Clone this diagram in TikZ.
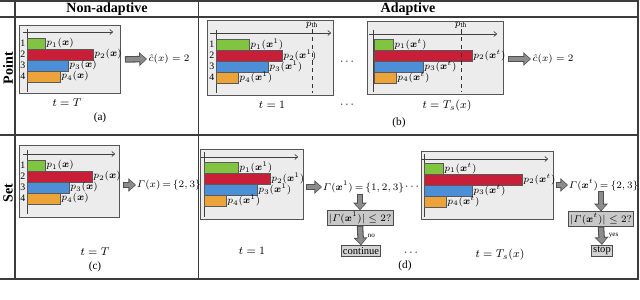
\documentclass[tikz,border=0pt]{standalone}
\usepackage{amsmath}
\usepackage{bm}
\usepackage{fontspec}
\setmainfont{Liberation Serif}
\usepackage{tikz}
\usetikzlibrary{
  arrows.meta,
  positioning,
  calc
}
\definecolor{BarGreen}{RGB}{128,196,66}
\definecolor{BarRed}{RGB}{200,30,55}
\definecolor{BarBlue}{RGB}{77,143,214}
\definecolor{BarOrange}{RGB}{236,164,58}
\definecolor{PanelGray}{RGB}{236,236,236}
\definecolor{PanelEdge}{RGB}{85,85,85}
\definecolor{ArrowGray}{RGB}{140,140,140}
\definecolor{ArrowEdge}{RGB}{80,80,80}
\definecolor{CheckGray}{RGB}{200,200,200}
\definecolor{RuleGray}{RGB}{60,60,60}
\tikzset{
  panelbox/.style={draw=PanelEdge,fill=PanelGray,line width=0.7pt,inner sep=0pt,anchor=north west},
  probbar/.style={draw=black!65,fill=#1,line width=0.4pt,minimum height=0.275cm,inner sep=0pt,outer sep=0pt,anchor=north west},
  problabel/.style={inner sep=0.8pt,font=\fontsize{7.5}{8}\selectfont},
  rankidx/.style={inner sep=0.5pt,font=\fontsize{7}{8}\selectfont},
  axisline/.style={draw=black!75,line width=0.5pt},
  axisarrow/.style={axisline,-{To[length=2.5pt,width=4pt]}},
  thline/.style={draw=black!80,line width=0.6pt,dash pattern=on 3pt off 2.5pt},
  fatarrow/.style={draw=ArrowEdge,line width=4.6pt,-{Triangle[length=5.5pt,width=9.5pt]},
    postaction={draw=ArrowGray,line width=3.1pt,shorten <=0.7pt,shorten >=0.8pt,-{Triangle[length=4pt,width=7pt]}}},
  checkbox/.style={draw=black!70,fill=CheckGray,line width=0.6pt,inner sep=1.2pt,font=\fontsize{7.5}{8}\selectfont},
  resultnode/.style={inner sep=1pt,anchor=west,font=\fontsize{7.5}{9}\selectfont},
  setnode/.style={resultnode,inner sep=0.5pt,font=\fontsize{7}{8}\selectfont},
  steplabel/.style={inner sep=1pt,font=\fontsize{8}{9}\selectfont},
  tablerule/.style={draw=RuleGray,line width=0.8pt},
  headlabel/.style={font=\bfseries},
  rowlabel/.style={font=\bfseries,rotate=90}
}

\begin{document}
\begin{tikzpicture}[x=0.025cm,y=-0.025cm]
\useasboundingbox (0,0) rectangle (640,300);

% table frame
\draw[tablerule] (0,1) -- (638,1) -- (638,279) -- (0,279);
\draw[tablerule] (0,17) -- (638,17);
\draw[tablerule] (0,135) -- (638,135);
\draw[tablerule] (15,1) -- (15,279);
\draw[tablerule] (198.5,1) -- (198.5,279);
\node[headlabel] (hnon) at (107,9) {Non-adaptive};
\node[headlabel] (hada) at (408,9) {Adaptive};
\node[rowlabel] (rpoint) at (8,68) {Point};
\node[rowlabel] (rset) at (8,193) {Set};

% (a) point, non-adaptive
\node[panelbox,minimum width=2.525cm,minimum height=1.7cm] (pa) at (19,25) {};
\draw[axisline] (27,29) -- (27,92);
\draw[axisarrow] (23,32) -- (113,32);
\node[probbar=BarGreen,minimum width=0.45cm] (a1) at (27,38) {};
\node[probbar=BarRed,minimum width=1.65cm] (a2) at (a1.south west) {};
\node[probbar=BarBlue,minimum width=1.025cm] (a3) at (a2.south west) {};
\node[probbar=BarOrange,minimum width=0.825cm] (a4) at (a3.south west) {};
\node[problabel,right=0pt of a1] {$p_1(\bm{x})$};
\node[problabel,right=0pt of a2] {$p_2(\bm{x})$};
\node[problabel,right=0pt of a3] {$p_3(\bm{x})$};
\node[problabel,right=0pt of a4] {$p_4(\bm{x})$};
\node[rankidx,left=0.5pt of a1] {1};
\node[rankidx,left=0.5pt of a2] {2};
\node[rankidx,left=0.5pt of a3] {3};
\node[rankidx,left=0.5pt of a4] {4};
\node[resultnode] (ra) at (147,59) {$\hat{c}(x) = 2$};
\draw[fatarrow] ($(pa.east)+(4,0)$) -- (ra.west);
\node[steplabel] (ta) at (67,103) {$t = T$};
\node[steplabel] (la) at (100,118) {(a)};

% (b) point, adaptive
\node[panelbox,minimum width=3.15cm,minimum height=1.875cm] (pb1) at (207,20) {};
\draw[axisline] (216,30) -- (216,93);
\draw[axisarrow] (210,33) -- (331,33);
\node[probbar=BarGreen,minimum width=0.825cm] (b1) at (216,39) {};
\node[probbar=BarRed,minimum width=1.65cm] (b2) at (b1.south west) {};
\node[probbar=BarBlue,minimum width=1.3cm] (b3) at (b2.south west) {};
\node[probbar=BarOrange,minimum width=0.55cm] (b4) at (b3.south west) {};
\node[problabel,right=0pt of b1] {$p_1(\bm{x}^1)$};
\node[problabel,right=0pt of b2] {$p_2(\bm{x}^1)$};
\node[problabel,right=0pt of b3] {$p_3(\bm{x}^1)$};
\node[problabel,right=0pt of b4] {$p_4(\bm{x}^1)$};
\node[rankidx,left=0.5pt of b1] {1};
\node[rankidx,left=0.5pt of b2] {2};
\node[rankidx,left=0.5pt of b3] {3};
\node[rankidx,left=0.5pt of b4] {4};
\node[problabel] (th1) at (312,25) {$p_{\mathrm{th}}$};
\draw[thline] (th1.south) -- ($(th1.south |- pb1.south)+(0,-3)$);
\node[steplabel] (tb1) at (272,105) {$t = 1$};
\node[steplabel] (db1) at (348,62) {$\cdots$};
\node[steplabel] (db2) at (348,105) {$\cdots$};

\node[panelbox,minimum width=3.4cm,minimum height=1.825cm] (pb2) at (367,21) {};
\draw[axisline] (373,30) -- (373,92);
\draw[axisarrow] (369,34) -- (497,34);
\node[probbar=BarGreen,minimum width=0.475cm] (c1) at (374,39) {};
\node[probbar=BarRed,minimum width=2.45cm] (c2) at (c1.south west) {};
\node[probbar=BarBlue,minimum width=1.225cm] (c3) at (c2.south west) {};
\node[probbar=BarOrange,minimum width=0.55cm] (c4) at (c3.south west) {};
\node[problabel,right=0pt of c1] {$p_1(\bm{x}^t)$};
\node[problabel,right=0pt of c2] {$p_2(\bm{x}^t)$};
\node[problabel,right=0pt of c3] {$p_3(\bm{x}^t)$};
\node[problabel,right=0pt of c4] {$p_4(\bm{x}^t)$};
\node[problabel] (th2) at (461,25) {$p_{\mathrm{th}}$};
\draw[thline] (th2.south) -- ($(th2.south |- pb2.south)+(0,-3)$);
\node[resultnode] (rb) at (531,59) {$\hat{c}(x) = 2$};
\draw[fatarrow] ($(pb2.east |- rb.west)+(4,0)$) -- (rb.west);
\node[steplabel] (tb2) at (447,106) {$t = T_s(x)$};
\node[steplabel] (lb) at (399,123) {(b)};

% (c) set, non-adaptive
\node[panelbox,minimum width=2.5cm,minimum height=1.8cm] (pc) at (19,145) {};
\draw[axisline] (27,150) -- (27,214);
\draw[axisarrow] (23,154) -- (115,154);
\node[probbar=BarGreen,minimum width=0.45cm] (e1) at (27,160) {};
\node[probbar=BarRed,minimum width=1.625cm] (e2) at (e1.south west) {};
\node[probbar=BarBlue,minimum width=1.05cm] (e3) at (e2.south west) {};
\node[probbar=BarOrange,minimum width=0.825cm] (e4) at (e3.south west) {};
\node[problabel,right=0pt of e1] {$p_1(\bm{x})$};
\node[problabel,right=0pt of e2] {$p_2(\bm{x})$};
\node[problabel,right=0pt of e3] {$p_3(\bm{x})$};
\node[problabel,right=0pt of e4] {$p_4(\bm{x})$};
\node[rankidx,left=0.5pt of e1] {1};
\node[rankidx,left=0.5pt of e2] {2};
\node[rankidx,left=0.5pt of e3] {3};
\node[rankidx,left=0.5pt of e4] {4};
\node[setnode] (gc) at (136,185) {$\varGamma(x)\,{=}\,\{2,3\}$};
\draw[fatarrow] ($(pc.east |- gc.west)+(3,0)$) -- (gc.west);
\node[steplabel] (tc) at (95,252) {$t = T$};
\node[steplabel] (lc) at (95,267) {(c)};

% (d) set, adaptive
\node[panelbox,minimum width=2.575cm,minimum height=1.75cm] (pd1) at (200,149) {};
\draw[axisline] (204,152) -- (204,217);
\draw[axisarrow] (201,157) -- (298,157);
\node[probbar=BarGreen,minimum width=0.85cm] (f1) at (204,162) {};
\node[probbar=BarRed,minimum width=1.65cm] (f2) at (f1.south west) {};
\node[probbar=BarBlue,minimum width=1.325cm] (f3) at (f2.south west) {};
\node[probbar=BarOrange,minimum width=0.55cm] (f4) at (f3.south west) {};
\node[problabel,right=0pt of f1] {$p_1(\bm{x}^1)$};
\node[problabel,right=0pt of f2] {$p_2(\bm{x}^1)$};
\node[problabel,right=0pt of f3] {$p_3(\bm{x}^1)$};
\node[problabel,right=0pt of f4] {$p_4(\bm{x}^1)$};
\node[setnode] (gd1) at (322,187) {$\varGamma(\bm{x}^1)\,{=}\,\{1,2,3\}$};
\draw[fatarrow] ($(pd1.east |- gd1.west)+(2,0)$) -- (gd1.west);
\node[checkbox] (qd1) at (360,218) {$|\varGamma(\bm{x}^1)| \le 2?$};
\node[checkbox,fill=CheckGray!80] (cd1) at (361,251) {continue};
\draw[fatarrow] (gd1.south -| qd1.north) -- (qd1.north);
\draw[fatarrow] (qd1.south) -- node[right,font=\tiny,inner sep=3pt] {no} (cd1.north);
\node[steplabel] (td1) at (252,251) {$t = 1$};
\node[steplabel] (dd1) at (413,187) {$\cdots$};
\node[steplabel] (dd2) at (412,253) {$\cdots$};
\node[steplabel] (ld) at (405,266) {(d)};

\node[panelbox,minimum width=3.3cm,minimum height=1.7cm] (pd2) at (421,151) {};
\draw[axisline] (424,154) -- (424,217);
\draw[axisarrow] (421,159) -- (548,159);
\node[probbar=BarGreen,minimum width=0.475cm] (g1) at (424,163) {};
\node[probbar=BarRed,minimum width=2.45cm] (g2) at (g1.south west) {};
\node[probbar=BarBlue,minimum width=1.2cm] (g3) at (g2.south west) {};
\node[probbar=BarOrange,minimum width=0.55cm] (g4) at (g3.south west) {};
\node[problabel,right=0pt of g1] {$p_1(\bm{x}^t)$};
\node[problabel,right=0pt of g2] {$p_2(\bm{x}^t)$};
\node[problabel,right=0pt of g3] {$p_3(\bm{x}^t)$};
\node[problabel,right=0pt of g4] {$p_4(\bm{x}^t)$};
\node[setnode] (gd2) at (568,185) {$\varGamma(\bm{x}^t)\,{=}\,\{2,3\}$};
\draw[fatarrow] ($(pd2.east |- gd2.west)+(2,0)$) -- (gd2.west);
\node[checkbox] (qd2) at (601,219) {$|\varGamma(\bm{x}^t)| \le 2?$};
\node[checkbox,fill=CheckGray!80] (sd2) at (602,251) {stop};
\draw[fatarrow] (gd2.south -| qd2.north) -- (qd2.north);
\draw[fatarrow] (qd2.south) -- node[right,font=\tiny,inner sep=3pt] {yes} (sd2.north);
\node[steplabel] (td2) at (500,255) {$t = T_s(x)$};
\end{tikzpicture}
\end{document}
